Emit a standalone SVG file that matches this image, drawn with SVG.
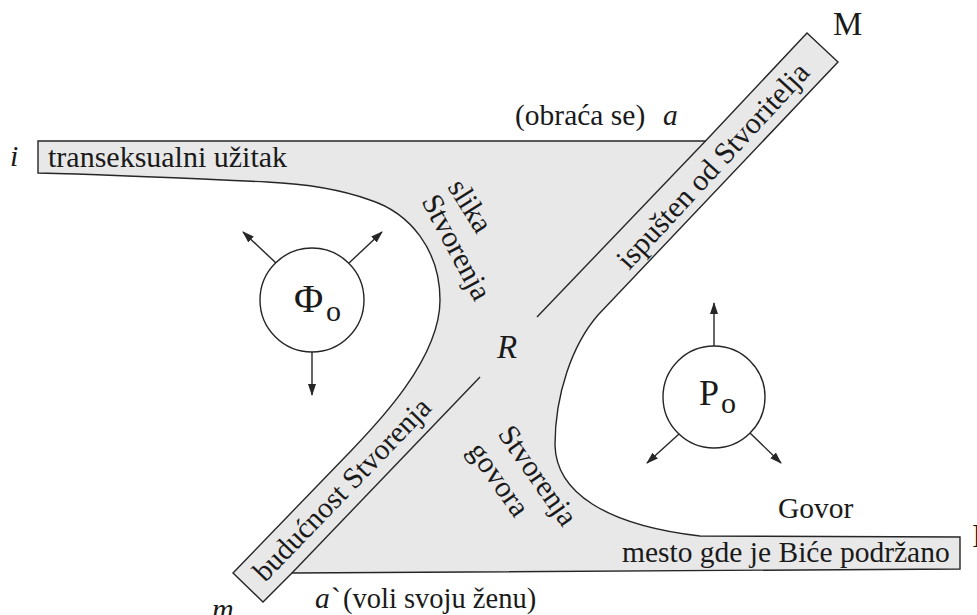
<svg xmlns="http://www.w3.org/2000/svg" width="977" height="615" viewBox="0 0 977 615">
<style>
.t{font-family:"Liberation Serif","Times New Roman",serif;font-size:29.5px;fill:#1a1a1a}
.it{font-style:italic}
.ln{fill:none;stroke:#262626;stroke-width:1.4}
.circ{fill:#ffffff;stroke:#262626;stroke-width:1.4}
.arr{fill:none;stroke:#262626;stroke-width:1.4;marker-end:url(#ah)}
</style>
<defs>
<marker id="ah" markerUnits="userSpaceOnUse" markerWidth="12" markerHeight="9" refX="11" refY="4" orient="auto">
<path d="M0,0 L12,4 L0,8 z" fill="#262626"/>
</marker>
</defs>
<rect width="977" height="615" fill="#ffffff"/>
<g id="region">
<path class="ln" style="fill:#e8e8e8" d="M38,141 L705.5,141 L807,33 L838,62 L598,315 C572,345 555,395 555,445 C556,492 605,525 700,536 L960,537 L960,569 L292,573 L263,602 L233,573 L347,455 C375,426 440,360 440,300 C440,250 410,213 370,200 C345,191 310,184 267,182 C200,179 120,175 38,173 Z"/>
<path class="ln" d="M705.5,141 L537,317"/>
<path class="ln" d="M292,573 L480,377"/>
</g>
<g id="node-phi">
<circle class="circ" cx="312" cy="300" r="52"/>
<text class="t" x="294" y="312" style="font-size:40px">Φ</text>
<text class="t" x="326" y="321" style="font-size:30px">o</text>
</g>
<g id="node-p">
<circle class="circ" cx="714" cy="397" r="51"/>
<text class="t" x="699" y="405" style="font-size:36px">P</text>
<text class="t" x="721" y="413" style="font-size:30px">o</text>
</g>
<g id="connectors">
<line class="arr" x1="276" y1="263" x2="243" y2="232"/>
<line class="arr" x1="349" y1="263" x2="382" y2="232"/>
<line class="arr" x1="312" y1="352" x2="312" y2="395"/>
<line class="arr" x1="714" y1="346" x2="714" y2="303"/>
<line class="arr" x1="679" y1="434" x2="647" y2="463"/>
<line class="arr" x1="750" y1="433" x2="781" y2="463"/>
</g>
<g id="labels">
<text class="t it" x="10" y="166" style="font-size:30px">i</text>
<text class="t" x="48" y="167" style="font-size:30px">transeksualni užitak</text>
<text class="t" x="515" y="125">(obraća se)</text>
<text class="t it" x="663" y="125">a</text>
<text class="t" x="833" y="35" style="font-size:33px">M</text>
<text class="t" x="972" y="547" style="font-size:33px">I</text>
<text class="t it" x="497" y="358" style="font-size:33px">R</text>
<text class="t" x="778" y="518">Govor</text>
<text class="t" x="622" y="562">mesto gde je Biće podržano</text>
<text class="t it" x="315" y="608">a</text>
<text class="t" x="331" y="608">`</text>
<text class="t" x="343" y="608" style="font-size:28.5px">(voli svoju ženu)</text>
<text class="t it" x="212" y="619" style="font-size:30px">m</text>
<text class="t" transform="translate(629,271) rotate(-47.3)" style="font-size:30px">ispušten od Stvoritelja</text>
<text class="t" transform="translate(447,187) rotate(58)" style="font-size:30px">slika</text>
<text class="t" transform="translate(421,201) rotate(62)" style="font-size:30px">Stvorenja</text>
<text class="t" transform="translate(497,434) rotate(55)" style="font-size:30px">Stvorenja</text>
<text class="t" transform="translate(467,450.7) rotate(55)" style="font-size:30px">govora</text>
<text class="t" transform="translate(265,583) rotate(-46)" style="font-size:29.5px">budućnost Stvorenja</text>
</g>
</svg>
